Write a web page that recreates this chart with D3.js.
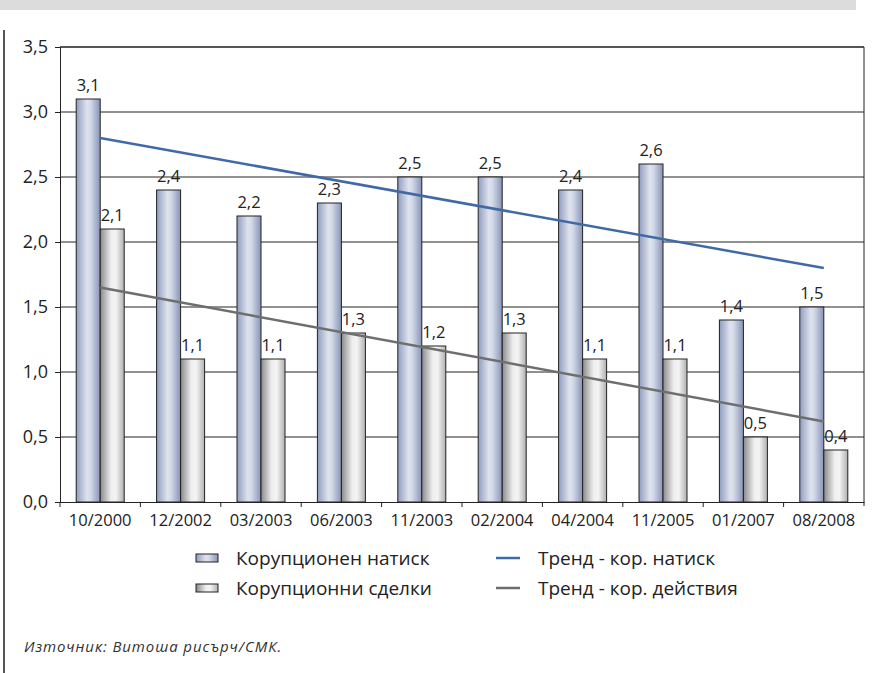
<!DOCTYPE html>
<html>
<head>
<meta charset="utf-8">
<script src="https://cdn.jsdelivr.net/npm/d3@7"></script>
<style>
  body { margin: 0; background: #fff; }
  svg { font-family: "Open Sans", "DejaVu Sans", sans-serif; }
</style>
</head>
<body>
<div id="chart"></div>
<script>
const categories = ["10/2000", "12/2002", "03/2003", "06/2003", "11/2003", "02/2004", "04/2004", "11/2005", "01/2007", "08/2008"];
const pressure = [3.1, 2.4, 2.2, 2.3, 2.5, 2.5, 2.4, 2.6, 1.4, 1.5];
const deals = [2.1, 1.1, 1.1, 1.3, 1.2, 1.3, 1.1, 1.1, 0.5, 0.4];
// trend ends (first, last category)
const trendPressure = [2.80, 1.80];
const trendDeals = [1.65, 0.62];
const yTicks = [0, 0.5, 1, 1.5, 2, 2.5, 3, 3.5];
const seriesNames = ["Корупционен натиск", "Корупционни сделки"];
const trendNames = ["Тренд - кор. натиск", "Тренд - кор. действия"];
const sourceText = "Източник: Витоша рисърч/СМК.";

const WIDTH = 879, HEIGHT = 673;
const MARGIN = { top: 47, left: 60, right: 15, bottom: 171 };

const svg = d3.select("#chart").append("svg")
  .attr("width", WIDTH).attr("height", HEIGHT);

const defs = svg.append("defs");
const gBlue = defs.append("linearGradient").attr("id", "gblue");
[["0%", "#8f9dc0"], ["45%", "#dfe3ed"], ["60%", "#d3d9e8"], ["100%", "#8794b6"]]
  .forEach(([o, c]) => gBlue.append("stop").attr("offset", o).attr("stop-color", c));
const gGray = defs.append("linearGradient").attr("id", "ggray");
[["0%", "#8a8a8a"], ["45%", "#eeeeee"], ["65%", "#f4f4f4"], ["100%", "#b0b0b0"]]
  .forEach(([o, c]) => gGray.append("stop").attr("offset", o).attr("stop-color", c));

// frame decorations
svg.append("rect").attr("x", 0).attr("y", 0).attr("width", 856).attr("height", 10).attr("fill", "#dcdcdc");
svg.append("line").attr("x1", 4).attr("x2", 4).attr("y1", 30).attr("y2", HEIGHT)
  .attr("stroke", "#555").attr("stroke-width", 2);

const x = d3.scaleBand().domain(categories)
  .range([MARGIN.left, WIDTH - MARGIN.right]).paddingInner(0).paddingOuter(0);
const xs = d3.scaleBand().domain([0, 1]).range([0, x.bandwidth()]).paddingInner(0).paddingOuter(0.675);
const y = d3.scaleLinear().domain([0, 3.5]).range([HEIGHT - MARGIN.bottom, MARGIN.top]);

const plotR = WIDTH - MARGIN.right;
const fmt = d => d3.format(".1f")(d).replace(".", ",");

// gridlines
svg.append("g").selectAll("line").data(yTicks.slice(1)).join("line")
  .attr("x1", MARGIN.left).attr("x2", plotR)
  .attr("y1", d => y(d)).attr("y2", d => y(d))
  .attr("stroke", d => d === 3.5 ? "#555" : "#222")
  .attr("stroke-width", d => d === 3.5 ? 1.8 : 1);
svg.append("line").attr("x1", plotR).attr("x2", plotR)
  .attr("y1", y(3.5)).attr("y2", y(0) + 4).attr("stroke", "#222");

// y axis
const yAxis = svg.append("g").attr("transform", `translate(${MARGIN.left},0)`)
  .call(d3.axisLeft(y).tickValues(yTicks).tickSize(5).tickPadding(7).tickFormat(fmt));
yAxis.attr("font-size", null).attr("font-family", null);
yAxis.selectAll("text").attr("font-size", 18).attr("fill", "#222");
yAxis.selectAll("line,path").attr("stroke", "#222");

// x axis
const xAxis = svg.append("g").attr("transform", `translate(0,${y(0)})`)
  .call(d3.axisBottom(x).tickSize(0).tickPadding(12));
xAxis.attr("font-size", null).attr("font-family", null);
xAxis.selectAll("text").attr("font-size", 16.5).attr("fill", "#222");
xAxis.select("path").attr("stroke", "#222");
svg.append("g").selectAll("line").data(categories).join("line")
  .attr("x1", d => x(d)).attr("x2", d => x(d))
  .attr("y1", y(0)).attr("y2", y(0) + 5).attr("stroke", "#222");

// bars
const series = [pressure, deals];
const fills = ["url(#gblue)", "url(#ggray)"];
series.forEach((vals, si) => {
  const g = svg.append("g");
  g.selectAll("rect").data(vals).join("rect")
    .attr("x", (d, i) => x(categories[i]) + xs(si))
    .attr("y", d => y(d))
    .attr("width", xs.bandwidth())
    .attr("height", d => y(0) - y(d))
    .attr("fill", fills[si])
    .attr("stroke", "#222").attr("stroke-width", 1);
  g.selectAll("text").data(vals).join("text")
    .attr("x", (d, i) => x(categories[i]) + xs(si) + xs.bandwidth() / 2)
    .attr("y", d => y(d) - 8)
    .attr("text-anchor", "middle")
    .attr("font-size", 16.5).attr("fill", "#222")
    .text(fmt);
});

// trend lines
const cx = c => x(c) + x.bandwidth() / 2;
const ends = [categories[0], categories[categories.length - 1]];
[[trendPressure, "#3f6aa5"], [trendDeals, "#6e6e6e"]].forEach(([t, col]) => {
  svg.append("path")
    .datum(t.map((v, i) => [cx(ends[i]), y(v)]))
    .attr("d", d3.line())
    .attr("fill", "none").attr("stroke", col).attr("stroke-width", 2.5);
});

// legend
const legend = svg.append("g");
seriesNames.forEach((n, i) => {
  const ly = 558 + i * 30;
  legend.append("rect").attr("x", 196).attr("y", ly - 4).attr("width", 22).attr("height", 8)
    .attr("fill", fills[i]).attr("stroke", "#222").attr("stroke-width", 1);
  legend.append("text").attr("x", 236).attr("y", ly + 7).attr("font-size", 19).attr("fill", "#222").text(n);
});
trendNames.forEach((n, i) => {
  const ly = 558 + i * 30;
  legend.append("line").attr("x1", 496).attr("x2", 520).attr("y1", ly).attr("y2", ly)
    .attr("stroke", i === 0 ? "#3f6aa5" : "#6e6e6e").attr("stroke-width", 2.5);
  legend.append("text").attr("x", 538).attr("y", ly + 7).attr("font-size", 19).attr("fill", "#222").text(n);
});

svg.append("text").attr("x", 24).attr("y", 652).attr("font-size", 15)
  .attr("letter-spacing", 0.9)
  .attr("font-style", "italic").attr("fill", "#333").text(sourceText);
</script>
</body>
</html>
